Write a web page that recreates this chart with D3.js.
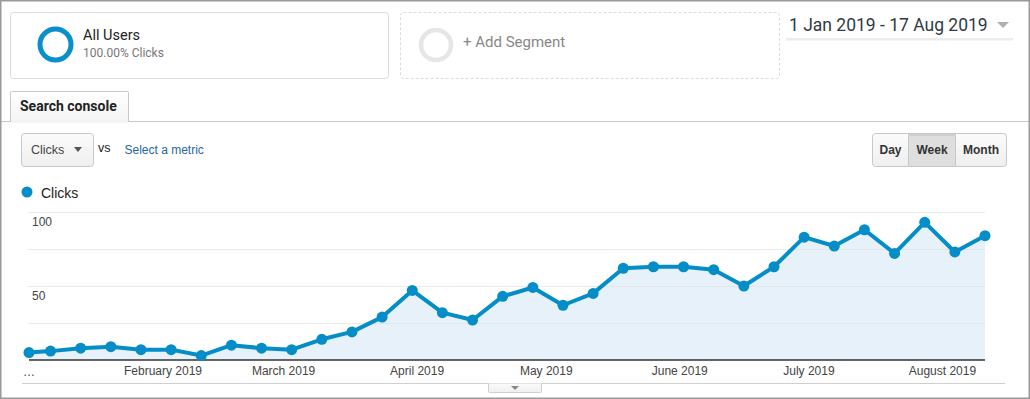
<!DOCTYPE html>
<html>
<head>
<meta charset="utf-8">
<script src="https://cdn.jsdelivr.net/npm/d3@7"></script>
<style>
  html, body { margin: 0; padding: 0; background: #fff; }
  svg { display: block; }
</style>
</head>
<body>
<svg id="chart" width="1030" height="399"></svg>
<script>
// ---- data ----
const weekStarts = ["2019-01-01","2019-01-06","2019-01-13","2019-01-20","2019-01-27",
  "2019-02-03","2019-02-10","2019-02-17","2019-02-24",
  "2019-03-03","2019-03-10","2019-03-17","2019-03-24","2019-03-31",
  "2019-04-07","2019-04-14","2019-04-21","2019-04-28",
  "2019-05-05","2019-05-12","2019-05-19","2019-05-26",
  "2019-06-02","2019-06-09","2019-06-16","2019-06-23","2019-06-30",
  "2019-07-07","2019-07-14","2019-07-21","2019-07-28",
  "2019-08-04","2019-08-11"];
const clicks = [5,6,8,9,7,7,3,10,8,7,14,19,29,47,32,27,43,49,37,45,62,63,63,61,50,63,83,77,88,72,93,73,84];
const yTickValues = [0,25,50,75,100];
const yTickLabels = ["", "", "50", "", "100"];
const monthTicks = ["2019-02-01","2019-03-01","2019-04-01","2019-05-01","2019-06-01","2019-07-01","2019-08-01"];
const dateRangeLabel = "1 Jan 2019 - 17 Aug 2019";
const granularity = ["Day","Week","Month"];

const parse = d3.utcParse("%Y-%m-%d");
const data = weekStarts.map((d,i) => ({date: parse(d), value: clicks[i]}));

const svg = d3.select("#chart");
const BLUE = "#058dc7";
const ARIAL = "'Liberation Sans', Arial, sans-serif";
const ROBOTO = "Roboto, 'Liberation Sans', Arial, sans-serif";

const defs = svg.append("defs");
const g1 = defs.append("linearGradient").attr("id","btnGrad").attr("x1",0).attr("y1",0).attr("x2",0).attr("y2",1);
g1.append("stop").attr("offset","0%").attr("stop-color","#fbfbfb");
g1.append("stop").attr("offset","100%").attr("stop-color","#efefef");
const g2 = defs.append("linearGradient").attr("id","tabGrad").attr("x1",0).attr("y1",0).attr("x2",0).attr("y2",1);
g2.append("stop").attr("offset","0%").attr("stop-color","#ffffff");
g2.append("stop").attr("offset","100%").attr("stop-color","#f4f4f4");

// ---- header: segments ----
svg.append("rect").attr("x",10.5).attr("y",12.5).attr("width",378).attr("height",66)
  .attr("rx",3).attr("fill","#fff").attr("stroke","#dcdcdc");
svg.append("circle").attr("cx",55.5).attr("cy",44.5).attr("r",15.5)
  .attr("fill","none").attr("stroke","#0a8fcd").attr("stroke-width",5);
svg.append("text").attr("x",83).attr("y",40).attr("font-family",ROBOTO).attr("font-size",14.5)
  .attr("fill","#222").text("All Users");
svg.append("text").attr("x",83).attr("y",57).attr("font-family",ROBOTO).attr("font-size",12)
  .attr("fill","#777").text("100.00% Clicks");

svg.append("rect").attr("x",400.5).attr("y",12.5).attr("width",379).attr("height",66)
  .attr("rx",3).attr("fill","#fff").attr("stroke","#dcdcdc").attr("stroke-dasharray","3,2");
svg.append("circle").attr("cx",436).attr("cy",45).attr("r",15)
  .attr("fill","none").attr("stroke","#e6e6e6").attr("stroke-width",4.5);
svg.append("text").attr("x",463).attr("y",46.5).attr("font-family",ROBOTO).attr("font-size",15)
  .attr("fill","#888").text("+ Add Segment");

// date picker
svg.append("text").attr("x",789).attr("y",31).attr("font-family",ROBOTO).attr("font-size",17.5)
  .attr("fill","#2f3a45").text(dateRangeLabel);
svg.append("path").attr("d","M997,22 L1009,22 L1003,28 Z").attr("fill","#b0b0b0");
svg.append("rect").attr("x",786).attr("y",38).attr("width",227).attr("height",2.5).attr("fill","#ececec");

// tab line
svg.append("line").attr("x1",0).attr("x2",1030).attr("y1",121.5).attr("y2",121.5).attr("stroke","#c9c9c9");
svg.append("path").attr("d","M10.5,122 L10.5,92.5 Q10.5,91.5 11.5,91.5 L127.5,91.5 Q128.5,91.5 128.5,92.5 L128.5,122")
  .attr("fill","url(#tabGrad)").attr("stroke","#c9c9c9");
svg.append("rect").attr("x",11).attr("y",120).attr("width",117).attr("height",3).attr("fill","#f4f4f4");
svg.append("text").attr("x",20).attr("y",111).attr("font-family",ROBOTO).attr("font-weight","bold")
  .attr("font-size",14).attr("fill","#222").text("Search console");

// metric dropdown
svg.append("rect").attr("x",21.5).attr("y",133.5).attr("width",72).attr("height",33).attr("rx",3)
  .attr("fill","url(#btnGrad)").attr("stroke","#c8c8c8");
svg.append("text").attr("x",31).attr("y",154).attr("font-family",ARIAL).attr("font-size",12.5)
  .attr("fill","#444").text("Clicks");
svg.append("path").attr("d","M74,147 L82,147 L78,152 Z").attr("fill","#555");
svg.append("text").attr("x",98).attr("y",152).attr("font-family",ARIAL).attr("font-size",12.5)
  .attr("fill","#222").text("vs");
svg.append("text").attr("x",124.5).attr("y",154).attr("font-family",ARIAL).attr("font-size",12)
  .attr("fill","#2466a8").text("Select a metric");

// granularity buttons
const btnX = [872.5, 908.5, 955.5, 1006.5];
svg.append("rect").attr("x",872.5).attr("y",133.5).attr("width",134).attr("height",33).attr("rx",3)
  .attr("fill","url(#btnGrad)").attr("stroke","#c8c8c8");
svg.append("rect").attr("x",btnX[1]).attr("y",134).attr("width",btnX[2]-btnX[1]).attr("height",32)
  .attr("fill","#dedede");
svg.append("rect").attr("x",btnX[1]+1).attr("y",134).attr("width",btnX[2]-btnX[1]-2).attr("height",2)
  .attr("fill","#cfcfcf");
[btnX[1], btnX[2]].forEach(x => svg.append("line").attr("x1",x).attr("x2",x).attr("y1",134).attr("y2",166)
  .attr("stroke","#c8c8c8"));
granularity.forEach((t,i) => {
  svg.append("text").attr("x",(btnX[i]+btnX[i+1])/2).attr("y",154).attr("text-anchor","middle")
    .attr("font-family",ARIAL).attr("font-weight","bold").attr("font-size",12).attr("fill","#333").text(t);
});

// legend
svg.append("circle").attr("cx",27).attr("cy",192).attr("r",5.5).attr("fill",BLUE);
svg.append("text").attr("x",41).attr("y",197.5).attr("font-family",ARIAL).attr("font-size",14)
  .attr("fill","#222").text("Clicks");

// ---- chart ----
const x = d3.scaleUtc().domain([data[0].date, data[data.length-1].date]).range([29, 985]);
const y = d3.scaleLinear().domain([0, 100]).range([360, 212]);

const area = d3.area().x(d => x(d.date)).y0(y(0)).y1(d => y(d.value));
const line = d3.line().x(d => x(d.date)).y(d => y(d.value));

svg.append("path").datum(data).attr("d", area).attr("fill", "#e7f1f9");

// gridlines
svg.append("g").selectAll("line").data(yTickValues.filter(v => v > 0)).join("line")
  .attr("x1", 28).attr("x2", 985)
  .attr("y1", d => Math.round(y(d)) + 0.5).attr("y2", d => Math.round(y(d)) + 0.5)
  .attr("stroke", "#e3e3e3").attr("stroke-opacity", 0.7);

// baseline
svg.append("line").attr("x1",29).attr("x2",985).attr("y1",y(0)).attr("y2",y(0))
  .attr("stroke","#333").attr("stroke-width",1.5);

// y labels
svg.append("g").selectAll("text").data(yTickValues.map((v,i)=>({v, label: yTickLabels[i]})).filter(d=>d.label))
  .join("text").attr("x", 32).attr("y", d => y(d.v) + 14)
  .attr("font-family", ARIAL).attr("font-size", 12).attr("fill", "#444").text(d => d.label);

svg.append("path").datum(data).attr("d", line).attr("fill","none")
  .attr("stroke", BLUE).attr("stroke-width", 4).attr("stroke-linejoin","round");
svg.append("g").selectAll("circle").data(data).join("circle")
  .attr("cx", d => x(d.date)).attr("cy", d => y(d.value)).attr("r", 5.5).attr("fill", BLUE);

// x axis labels
const fmt = d3.utcFormat("%B %Y");
const xAxis = d3.axisBottom(x).tickValues(monthTicks.map(parse)).tickFormat(fmt).tickSize(0).tickPadding(0);
const ax = svg.append("g").attr("transform", "translate(0,364)").call(xAxis);
ax.select(".domain").remove();
ax.selectAll("text").attr("font-family", ARIAL).attr("font-size", 12).attr("fill", "#444").attr("dy", "0.95em");
svg.append("text").attr("x", x(data[0].date)).attr("y", 376).attr("text-anchor","middle")
  .attr("font-family", ARIAL).attr("font-size", 12).attr("fill", "#444").text("…");

// bottom bar & toggle
svg.append("line").attr("x1",22).attr("x2",1005).attr("y1",383.5).attr("y2",383.5).attr("stroke","#cfcfcf");
svg.append("path").attr("d","M488.5,383.5 L488.5,391.5 Q488.5,392.5 489.5,392.5 L540.5,392.5 Q541.5,392.5 541.5,391.5 L541.5,383.5")
  .attr("fill","url(#btnGrad)").attr("stroke","#cfcfcf");
svg.append("path").attr("d","M511,386 L519,386 L515,390 Z").attr("fill","#888");

// outer border
svg.append("rect").attr("x",0.75).attr("y",0.75).attr("width",1028.5).attr("height",397.5)
  .attr("fill","none").attr("stroke","#9a9a9a").attr("stroke-width",1.5);
</script>
</body>
</html>
